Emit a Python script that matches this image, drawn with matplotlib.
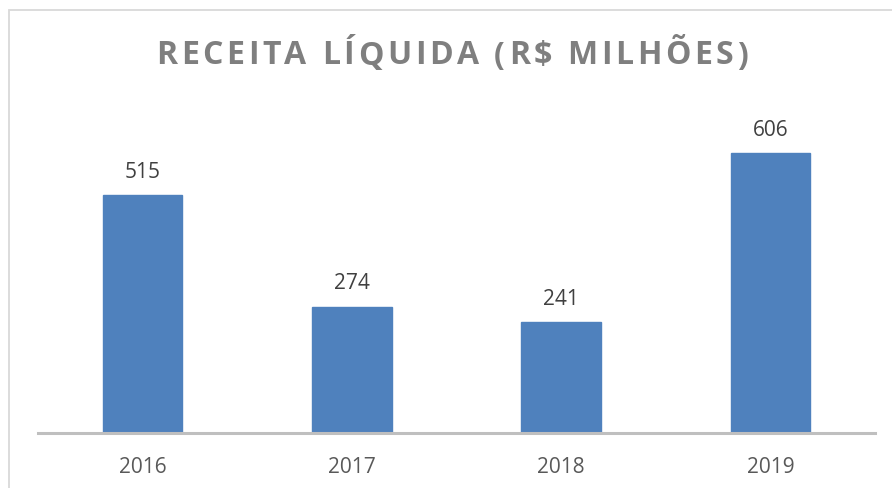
import matplotlib
matplotlib.use("Agg")
import matplotlib.pyplot as plt
from matplotlib.patches import Rectangle
from matplotlib.font_manager import FontProperties, findfont, get_font

years = ["2016", "2017", "2018", "2019"]
receita = [515, 274, 241, 606]
title = "RECEITA LÍQUIDA (R$ MILHÕES)"

plt.rcParams['font.family'] = ['Open Sans', 'DejaVu Sans']

DPI = 100
fig = plt.figure(figsize=(8.92, 4.89), dpi=DPI)
W, H = 892, 489

# outer chart border (light gray)
fig.patches.append(Rectangle((9 / W, -0.1), 1.2, (489 - 11) / H + 0.1,
                             transform=fig.transFigure, fill=False,
                             edgecolor="#D9D9D9", linewidth=1.3))

ax = fig.add_axes([38 / W, 55 / H, 837 / W, 334 / H])
x = list(range(len(years)))
ax.bar(x, receita, width=0.38, color="#4F81BD", edgecolor="#4F81BD")
ax.set_xlim(-0.5, len(years) - 0.5)
ax.set_ylim(0, 724)

for s in ["top", "right", "left"]:
    ax.spines[s].set_visible(False)
ax.spines["bottom"].set_color("#BFBFBF")
ax.spines["bottom"].set_linewidth(2.2)
ax.set_yticks([])
ax.set_xticks(x)
ax.set_xticklabels(years, fontsize=15, color="#595959")
ax.tick_params(axis="x", length=0, pad=16.5)

for xi, v in zip(x, receita):
    ax.annotate(f"{v}", (xi, v), xytext=(0, 9.5), textcoords="offset points",
                ha="center", va="bottom", fontsize=15, color="#404040")

# title with letter spacing (tracking), laid out from font advances
tsize = 23
fp = FontProperties(family="Open Sans", weight="bold", size=tsize)
font = get_font(findfont(fp))
font.set_size(tsize, DPI)
adv = [font.load_char(ord(c)).linearHoriAdvance / 65536.0 for c in title]
left_px, right_px = 156.0, 748.0
natural = sum(adv[:-1])
last_w = adv[-1]
track = (right_px - left_px - natural - last_w) / (len(title) - 1)
xpos = left_px
ty = 1 - 56 / H
for c, a in zip(title, adv):
    if c != " ":
        fig.text(xpos / W, ty, c, ha="left", va="center", fontproperties=fp,
                 color="#7F7F7F")
    xpos += a + track

fig.savefig("out.png", dpi=DPI)
